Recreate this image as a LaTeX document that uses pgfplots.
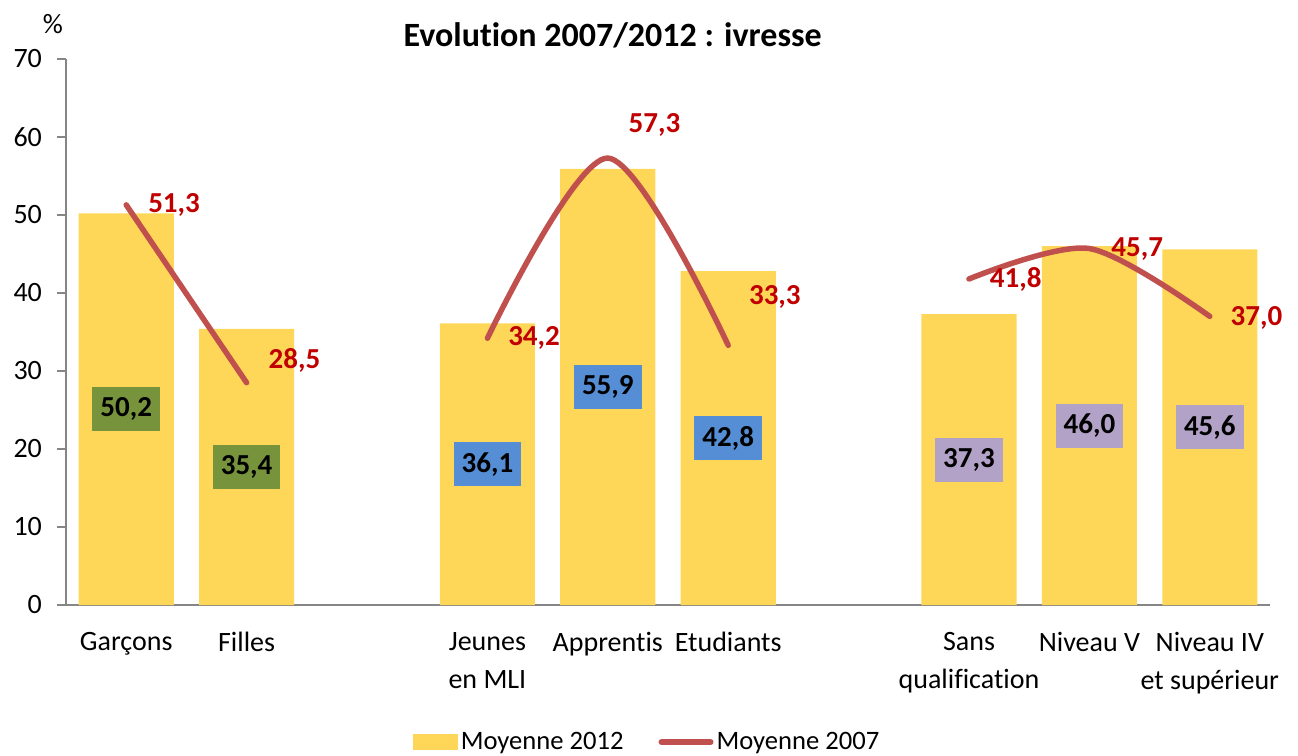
\documentclass[border=0pt]{standalone}
\usepackage{pgfplots}
\pgfplotsset{compat=1.18}
\usepackage{fontspec}
\setmainfont{Carlito}[Ligatures=NoCommon]
\usetikzlibrary{calc}
\definecolor{barY}{HTML}{FFD758}
\definecolor{lineR}{HTML}{C0504D}
\definecolor{labR}{HTML}{C00000}
\definecolor{boxG}{HTML}{77933C}
\definecolor{boxB}{HTML}{558ED5}
\definecolor{boxP}{HTML}{B3A2C7}
\definecolor{axG}{HTML}{868686}
\begin{document}
\begin{tikzpicture}
\begin{axis}[
  name=a,
  scale only axis, width=602pt, height=273pt,
  xmin=-0.5, xmax=9.5, ymin=0, ymax=70,
  clip=false,
  axis x line*=bottom, axis y line*=left,
  axis line style={axG, line width=1pt},
  ytick={0,10,...,70},
  ytick style={axG, line width=1pt},
  tick align=outside, major tick length=4.5pt,
  xtick={0,1,3,4,5,7,8,9},
  xticklabels={Garçons, Filles, {Jeunes\\en MLI}, Apprentis, Etudiants, {Sans\\qualification}, Niveau V, {Niveau IV\\et supérieur}},
  xtick style={draw=none},
  xticklabel style={align=center, font=\fontsize{14}{19}\selectfont, yshift=-5.5pt},
  yticklabel style={font=\fontsize{14}{17}\selectfont, anchor=east, xshift=-4pt},
  /pgf/number format/assume math mode=true,
  legend columns=2,
  legend style={at={(0.483,-0.251)}, anchor=center, draw=none, fill=none,
    font=\fontsize{13.3}{16}\selectfont,
    nodes={inner xsep=1.5pt},
    /tikz/every even column/.append style={column sep=16pt}},
]
\addplot[ybar, bar width=0.79, fill=barY, draw=none,
  legend image code/.code={\fill[barY] (0pt,-4pt) rectangle (22.5pt,4pt);}]
  coordinates {(0,50.2)(1,35.4)(3,36.1)(4,55.9)(5,42.8)(7,37.3)(8,46.0)(9,45.6)};
\addlegendentry{Moyenne 2012}
\addplot[lineR, line width=2.75pt, line cap=round, smooth,
  legend image code/.code={\draw[lineR, line width=3pt, line cap=round] (0pt,0pt) -- (24.5pt,0pt);}]
  coordinates {(0,51.3)(1,28.5)};
\addlegendentry{Moyenne 2007}
\addplot[lineR, line width=2.75pt, line cap=round, smooth, forget plot]
  coordinates {(3,34.2)(4,57.3)(5,33.3)};
\addplot[lineR, line width=2.75pt, line cap=round, smooth, forget plot]
  coordinates {(7,41.8)(8,45.7)(9,37.0)};
% bar value labels
\addplot[draw=none, forget plot, nodes near coords, point meta=explicit symbolic,
  every node near coord/.append style={anchor=center, fill=boxG, text=black,
    font=\bfseries\fontsize{14.5}{17}\selectfont, inner xsep=4pt, minimum height=22pt}]
  coordinates {(0,25.1)[50,2] (1,17.7)[35,4]};
\addplot[draw=none, forget plot, nodes near coords, point meta=explicit symbolic,
  every node near coord/.append style={anchor=center, fill=boxB, text=black,
    font=\bfseries\fontsize{14.5}{17}\selectfont, inner xsep=4pt, minimum height=22pt}]
  coordinates {(3,18.05)[36,1] (4,27.95)[55,9] (5,21.4)[42,8]};
\addplot[draw=none, forget plot, nodes near coords, point meta=explicit symbolic,
  every node near coord/.append style={anchor=center, fill=boxP, text=black,
    font=\bfseries\fontsize{14.5}{17}\selectfont, inner xsep=4pt, minimum height=22pt}]
  coordinates {(7,18.65)[37,3] (8,23.0)[46,0] (9,22.8)[45,6]};
% 2007 value labels
\addplot[draw=none, forget plot, nodes near coords, point meta=explicit symbolic,
  every node near coord/.append style={anchor=west, inner sep=0pt, text=labR,
    font=\bfseries\fontsize{14.5}{17}\selectfont}]
  coordinates {(0.18,51.3)[51,3] (1.18,31.4)[28,5] (3.17,34.2)[34,2] (4.17,61.5)[57,3]
    (5.17,39.5)[33,3] (7.17,41.8)[41,8] (8.18,45.6)[45,7] (9.17,36.8)[37,0]};
\node[font=\bfseries\fontsize{17}{20}\selectfont] at (rel axis cs:0.454,1) [yshift=12pt] {Evolution 2007/2012 : ivresse};
\node[font=\fontsize{14}{17}\selectfont] at (rel axis cs:0,1) [xshift=-6.5pt, yshift=17.5pt] {\%};
\coordinate (SW) at (rel axis cs:0,0);
\coordinate (NE) at (rel axis cs:1,1);
\end{axis}
\pgfresetboundingbox
\path[use as bounding box] ($(SW)+(-33pt,-75.5pt)$) rectangle ($(NE)+(14pt,29.5pt)$);
\end{tikzpicture}
\end{document}
